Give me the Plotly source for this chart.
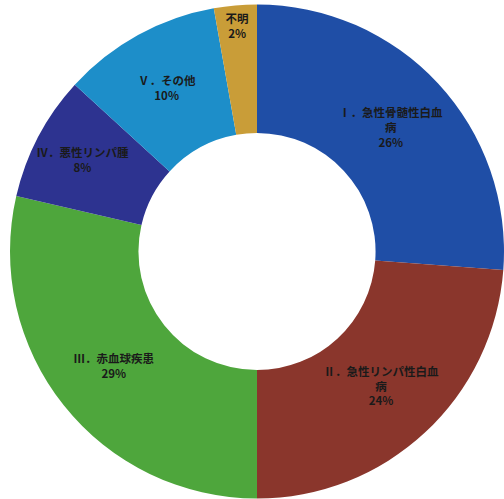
import plotly.graph_objects as go

labels = ["Ⅰ．急性骨髄性白血<br>病", "Ⅱ．急性リンパ性白血<br>病", "Ⅲ．赤血球疾患",
          "Ⅳ．悪性リンパ腫", "Ⅴ．その他", "不明"]
values = [26.2, 23.8, 28.6, 8.2, 10.4, 2.8]
pct_text = ["26%", "24%", "29%", "8%", "10%", "2%"]
colors = ["#1f4ea6", "#8a362c", "#4ea63c", "#2d3390", "#1d8ec9", "#c99d38"]

texts = ["<b>" + l + "<br>" + p + "</b>" for l, p in zip(labels, pct_text)]

fig = go.Figure(go.Pie(
    labels=labels,
    values=values,
    text=texts,
    hole=0.48,
    sort=False,
    direction="clockwise",
    rotation=0,
    marker=dict(colors=colors, line=dict(width=0)),
    texttemplate="%{text}",
    textposition="inside",
    insidetextorientation="horizontal",
    textfont=dict(family="Noto Sans CJK JP", size=11.5, color="#1a1a1a"),
    showlegend=False,
    hoverinfo="skip",
))

fig.update_layout(
    width=504, height=499,
    margin=dict(l=10, r=0, t=4, b=0),
    paper_bgcolor="white",
    plot_bgcolor="white",
)

fig.write_html("out.html")
